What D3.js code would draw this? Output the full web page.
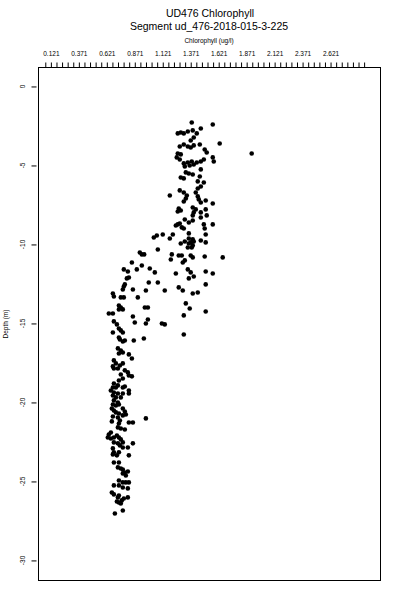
<!DOCTYPE html>
<html><head><meta charset="utf-8">
<script src="https://cdn.jsdelivr.net/npm/d3@7"></script>
<style>
html,body{margin:0;padding:0;background:#fff;}
svg{display:block;}
text{font-family:"Liberation Sans",Arial,Helvetica,sans-serif;fill:#000;}
</style>
</head><body>
<svg id="chart" width="400" height="600"></svg>
<script>
// ---------- text ----------
const chartTitle = "UD476 Chlorophyll";
const chartSubtitle = "Segment ud_476-2018-015-3-225";
const xAxisTitle = "Chlorophyll (ug/l)";
const yAxisTitle = "Depth (m)";

// ---------- axis ticks ----------
const xTickLabels = ["0.121","0.371","0.621","0.871","1.121","1.371","1.621","1.871","2.121","2.371","2.621"];
const xTickValues = [0.121,0.371,0.621,0.871,1.121,1.371,1.621,1.871,2.121,2.371,2.621];
const xMinorStep = 0.05;
const yTickValues = [0,-5,-10,-15,-20,-25,-30];

// ---------- data: [chlorophyll (ug/l), depth (m)] ----------
const upperLayer = [
[1.380,-2.28],[1.568,-2.41],[1.255,-2.97],[1.282,-2.91],[1.309,-2.97],[1.345,-2.85],[1.389,-2.78],[1.461,-2.66],
[1.425,-2.97],[1.398,-3.23],[1.371,-3.42],[1.630,-3.61],[1.916,-4.24],[1.273,-3.80],[1.309,-3.67],[1.345,-3.80],
[1.371,-3.86],[1.398,-3.73],[1.452,-3.67],[1.496,-3.99],[1.514,-4.18],[1.255,-4.24],[1.282,-4.30],[1.246,-4.49],
[1.273,-4.62],[1.568,-4.49],[1.577,-4.75],[1.309,-4.87],[1.345,-4.81],[1.380,-4.75],[1.398,-4.94],[1.425,-4.81],
[1.461,-4.75],[1.488,-4.62],[1.318,-5.06],[1.362,-5.00],[1.461,-5.25],[1.327,-5.44],[1.354,-5.51],[1.389,-5.57],
[1.282,-5.76],[1.309,-5.82],[1.452,-5.70],[1.434,-6.01],[1.488,-6.08],[1.461,-6.33],[1.184,-6.90],[1.273,-6.58],
[1.309,-6.71],[1.336,-6.90],[1.327,-7.09],[1.309,-7.28],[1.434,-6.46],[1.416,-6.71],[1.434,-6.96],[1.443,-7.15],
[1.461,-7.34],[1.505,-7.22],[1.568,-7.41],[1.264,-7.72],[1.282,-7.85],[1.255,-7.91],[1.389,-7.66],[1.416,-7.78],
[1.398,-7.97],[1.461,-7.97],[1.505,-7.78]
];
const transitionLayer = [
[1.389,-8.16],[1.461,-8.29],[1.514,-8.16],[1.318,-8.42],[1.354,-8.61],[1.389,-8.48],[1.255,-8.73],[1.273,-8.67],
[1.238,-8.80],[1.291,-8.92],[1.309,-8.99],[1.488,-8.73],[1.496,-8.99],[1.568,-8.73],[1.505,-9.37],[1.068,-9.43],
[1.121,-9.37],[1.041,-9.56],[1.211,-9.37],[1.184,-9.62],[1.354,-9.30],[1.354,-9.62],[1.389,-9.68],[1.371,-9.87],
[1.398,-9.81],[1.354,-9.94],[1.389,-10.06],[1.282,-9.94],[1.318,-9.81],[1.461,-9.75],[1.505,-9.87],[1.345,-10.19],
[1.380,-10.19],[1.077,-10.32],[0.916,-10.51],[0.934,-10.63],[0.955,-10.63],[1.202,-10.63],[1.193,-10.95],[1.264,-10.70],
[1.291,-10.70],[1.371,-10.70],[1.389,-10.82],[1.496,-10.76],[1.657,-10.82],[0.845,-11.14],[0.934,-11.33],[1.300,-11.14],
[1.318,-11.01],[0.773,-11.58],[0.809,-11.71],[0.889,-11.58],[1.005,-11.52],[1.050,-11.77],[1.238,-11.84],[1.345,-11.58],
[1.371,-11.77],[1.505,-11.71],[1.568,-11.84],[0.800,-12.15],[0.818,-12.09],[1.354,-12.15],[1.398,-12.03],[0.996,-12.41],
[1.077,-12.41],[0.782,-12.53],[0.773,-12.66],[0.764,-12.85],[1.505,-12.53],[0.854,-12.85],[0.970,-12.91],[1.139,-12.91],
[1.264,-12.72],[1.300,-12.91],[1.389,-13.10],[1.434,-13.04],[0.675,-13.10],[0.684,-13.29],[0.746,-13.35],[0.773,-13.35],
[0.898,-13.35],[1.327,-13.73],[1.362,-14.05],[0.729,-13.86],[0.746,-13.99],[0.764,-14.11],[0.729,-14.11],[0.961,-13.99],
[0.988,-13.99],[1.505,-14.24],[0.639,-14.37],[0.675,-14.37],[0.854,-14.56],[0.988,-14.75],[1.309,-14.49]
];
const middleLayer = [
[0.871,-14.94],[0.970,-15.00],[1.113,-15.00],[1.139,-15.06],[0.684,-14.87],[0.711,-15.06],[0.729,-15.32],[0.746,-15.44],
[0.764,-15.57],[0.675,-15.57],[0.729,-15.89],[0.738,-16.01],[0.764,-16.14],[0.782,-16.08],[0.862,-16.08],[0.952,-15.95],
[1.309,-15.70],[0.720,-16.58],[0.746,-16.71],[0.764,-16.84],[0.729,-16.90],[0.818,-16.96],[0.845,-17.22],[0.684,-17.34],
[0.702,-17.53],[0.675,-17.72],[0.684,-17.85],[0.720,-17.85],[0.738,-17.66],[0.764,-17.53],[0.782,-17.97],[0.809,-18.10],
[0.818,-18.29],[0.845,-18.35],[0.746,-18.23],[0.764,-18.48],[0.729,-18.61],[0.684,-18.80],[0.702,-19.05],[0.720,-18.92],
[0.675,-19.05],[0.764,-19.05],[0.782,-18.99],[0.818,-19.24],[0.818,-19.43],[0.657,-19.24],[0.684,-19.37],[0.720,-19.43],
[0.675,-19.56],[0.702,-19.68],[0.764,-19.43],[0.746,-19.68],[0.684,-19.87],[0.720,-20.00],[0.729,-20.13],[0.702,-20.19],
[0.675,-20.13],[0.666,-20.38],[0.684,-20.51],[0.702,-20.63],[0.729,-20.70],[0.764,-20.38],[0.782,-20.57],[0.791,-20.76],
[0.764,-20.82],[0.970,-21.01]
];
const bottomLayer = [
[0.675,-20.89],[0.720,-20.95],[0.666,-21.20],[0.738,-21.14],[0.729,-21.33],[0.818,-21.27],[0.854,-21.27],[0.720,-21.58],
[0.746,-21.65],[0.782,-21.71],[0.657,-21.90],[0.639,-22.03],[0.630,-22.22],[0.657,-22.28],[0.684,-22.22],[0.711,-22.09],
[0.729,-22.22],[0.746,-22.34],[0.764,-22.53],[0.684,-22.53],[0.720,-22.59],[0.738,-22.72],[0.764,-22.85],[0.809,-22.85],
[0.854,-22.59],[0.675,-22.91],[0.684,-23.16],[0.675,-23.29],[0.711,-23.35],[0.729,-23.16],[0.818,-23.35],[0.684,-23.80],
[0.729,-23.80],[0.720,-24.11],[0.746,-24.18],[0.764,-24.24],[0.782,-24.43],[0.764,-24.49],[0.791,-24.62],[0.809,-24.37],
[0.729,-24.94],[0.764,-25.06],[0.791,-25.06],[0.818,-25.06],[0.729,-25.25],[0.684,-25.25],[0.764,-25.38],[0.809,-25.44],
[0.666,-25.70],[0.684,-25.82],[0.720,-26.01],[0.729,-25.89],[0.809,-26.01],[0.773,-26.08],[0.711,-26.27],[0.729,-26.33],
[0.755,-26.20],[0.746,-26.39],[0.693,-27.03],[0.764,-26.84]
];

// ---------- layout ----------
const svg = d3.select("#chart");
const plot = {left: 38.5, right: 380.5, top: 67.5, bottom: 580.5};
const x = d3.scaleLinear().domain([0.0103, 3.0674]).range([plot.left, plot.right]);
const y = d3.scaleLinear().domain([1.20, -31.27]).range([plot.top, plot.bottom]);

// titles
svg.append("text").attr("x", 210).attr("y", 17).attr("text-anchor", "middle")
  .style("font-size", "10.5px").text(chartTitle);
svg.append("text").attr("x", 209).attr("y", 30).attr("text-anchor", "middle")
  .style("font-size", "10.5px").text(chartSubtitle);
svg.append("text").attr("x", 209).attr("y", 42.5).attr("text-anchor", "middle")
  .style("font-size", "6.5px").text(xAxisTitle);

// top axis: minor ticks
const minorTicks = d3.range(0, 58).map(i => 0.071 + i * xMinorStep);
svg.append("g").attr("transform", `translate(0,${plot.top})`)
  .call(d3.axisTop(x).tickValues(minorTicks).tickSize(5).tickFormat(""))
  .call(g => g.select(".domain").remove())
  .call(g => g.selectAll("line").attr("stroke", "#000").attr("stroke-width", 1));

// top axis labels
svg.append("g").attr("transform", `translate(0,${plot.top})`)
  .call(d3.axisTop(x).tickValues(xTickValues).tickSize(0).tickPadding(12)
    .tickFormat((d, i) => xTickLabels[i]))
  .call(g => g.select(".domain").remove())
  .call(g => g.selectAll("text").style("font-size", "6.5px")
    .style("font-family", '"Liberation Sans",Arial,sans-serif').attr("fill", "#000"));

// left axis
svg.append("g").attr("transform", `translate(${plot.left - 2},0)`)
  .call(d3.axisLeft(y).tickValues(yTickValues).tickSize(5).tickFormat(""))
  .call(g => g.select(".domain").remove())
  .call(g => g.selectAll("line").attr("stroke", "#000"));
svg.append("g").selectAll("text").data(yTickValues).join("text")
  .attr("transform", d => `translate(25,${y(d)}) rotate(-90)`)
  .attr("text-anchor", "middle")
  .style("font-size", "6.5px")
  .text(d => String(d));

svg.append("text")
  .attr("transform", `translate(8,${(plot.top + plot.bottom) / 2}) rotate(-90)`)
  .attr("text-anchor", "middle").style("font-size", "6.5px").text(yAxisTitle);

// box
svg.append("rect").attr("x", plot.left).attr("y", plot.top)
  .attr("width", plot.right - plot.left).attr("height", plot.bottom - plot.top)
  .attr("fill", "none").attr("stroke", "#000").attr("stroke-width", 1);

// points
const samples = [].concat(upperLayer, transitionLayer, middleLayer, bottomLayer);
svg.append("g").selectAll("circle").data(samples).join("circle")
  .attr("cx", d => x(d[0])).attr("cy", d => y(d[1])).attr("r", 2.3).attr("fill", "#000");
</script>
</body></html>
